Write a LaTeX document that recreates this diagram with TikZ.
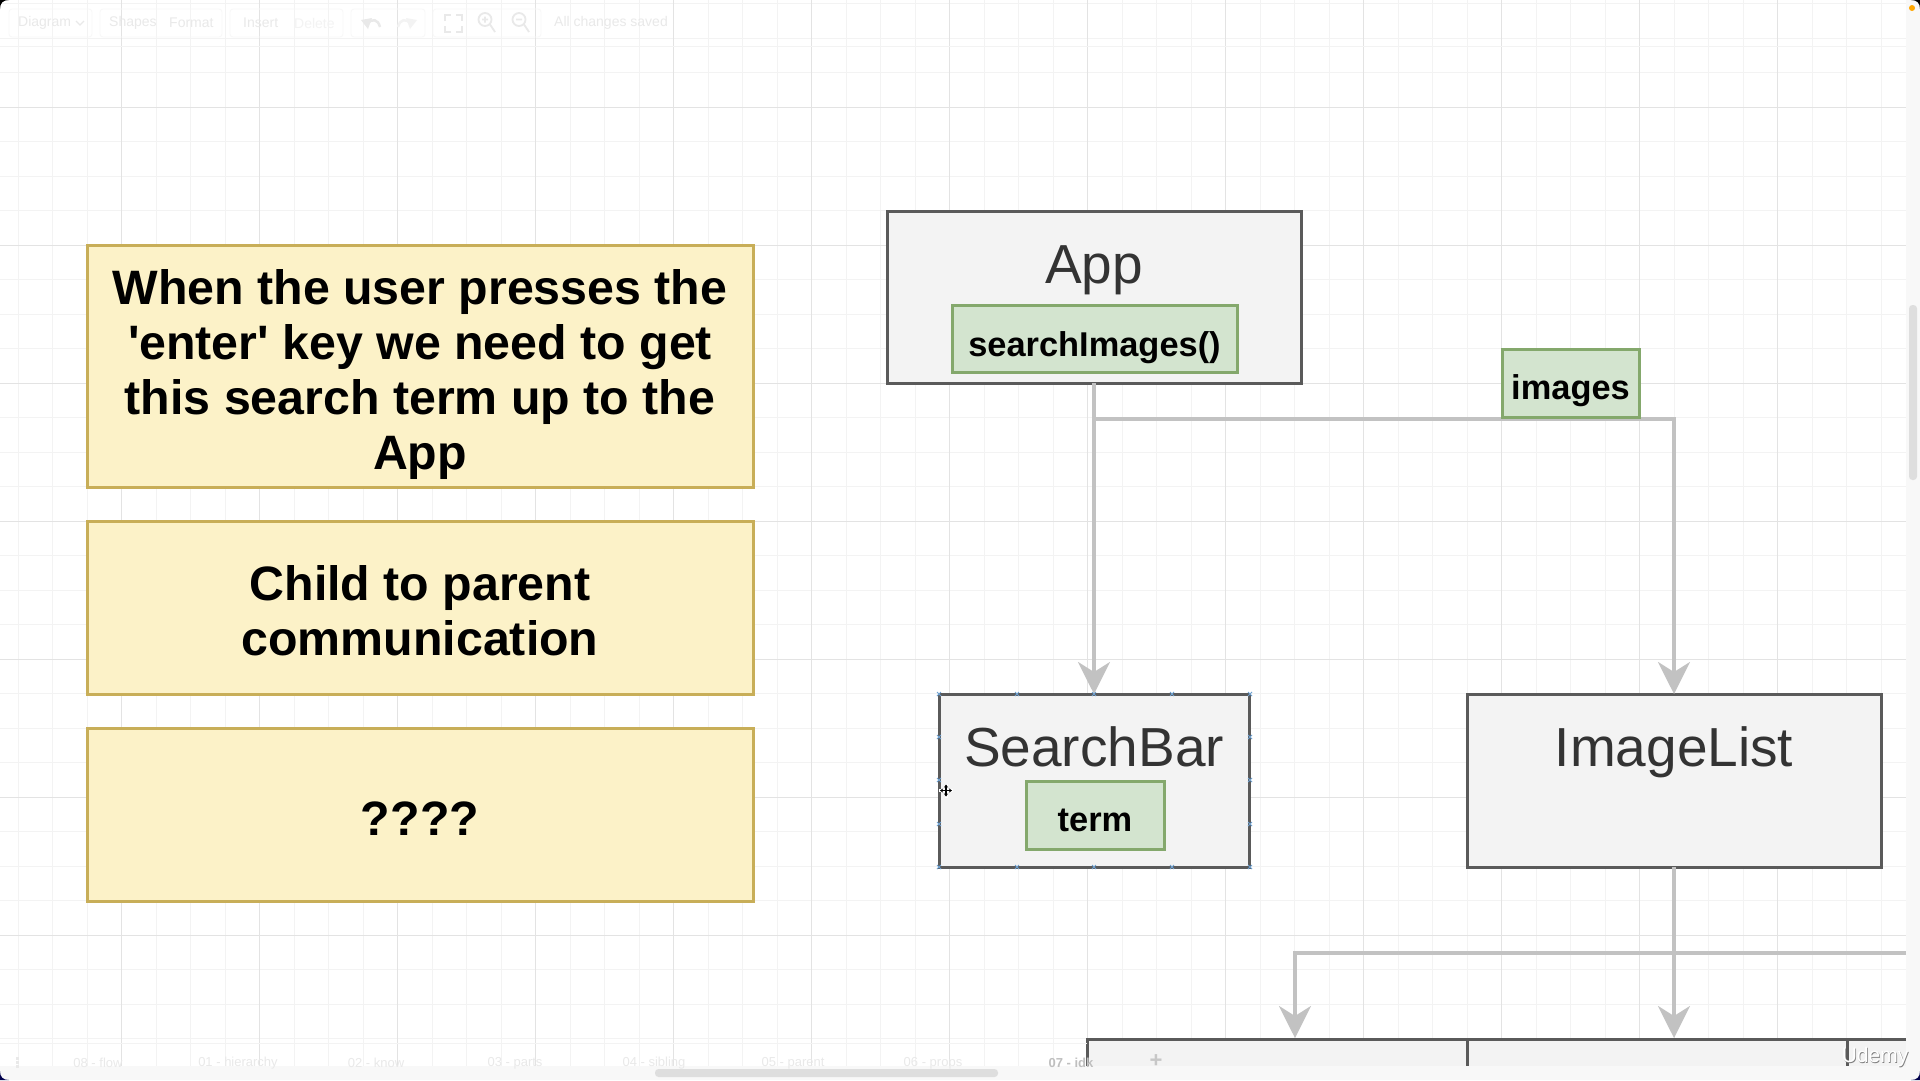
\documentclass[tikz,border=0pt]{standalone}
\usepackage{fontspec}
\setmainfont{Liberation Sans}
\newfontfamily\plainquotes{Liberation Sans}
\usetikzlibrary{arrows.meta,calc}
\definecolor{gridmajor}{HTML}{E3E3E3}
\definecolor{gridminor}{HTML}{F3F3F3}
\definecolor{yfill}{HTML}{FCF2C8}
\definecolor{yline}{HTML}{C8AE58}
\definecolor{gfill}{HTML}{D3E4CF}
\definecolor{gline}{HTML}{84A86C}
\definecolor{bfill}{HTML}{F3F3F3}
\definecolor{bline}{HTML}{5A5A5A}
\definecolor{conn}{HTML}{C2C2C2}
\definecolor{faint}{HTML}{E9E9E9}
\definecolor{handle}{HTML}{6C9FCF}
\definecolor{strip}{HTML}{F8F8F8}
\tikzset{
  box/.style={anchor=north west,draw,outer sep=0pt,inner sep=0pt,align=center},
  note/.style={box,fill=yfill,draw=yline,line width=3pt,font=\plainquotes\fontsize{48.3}{55}\selectfont\bfseries,text=black},
  comp/.style={box,fill=bfill,draw=bline,line width=3pt},
  compname/.style={anchor=base,font=\fontsize{55}{60}\selectfont,text=black!80,inner sep=0pt},
  state/.style={box,fill=gfill,draw=gline,line width=3pt,font=\fontsize{34.4}{40}\selectfont\bfseries,text=black},
  link/.style={draw=conn,line width=3.5pt},
  flow/.style={link,-{Stealth[length=32pt,width=32pt,inset=10pt]}},
  tb/.style={font=\fontsize{14}{16}\selectfont,text=faint,inner sep=0pt},
  tab/.style={font=\fontsize{13}{16}\selectfont,text=faint,inner sep=0pt},
  glyph/.style={draw=faint,line width=1.8pt},
  gripx/.style={handle,line width=.9pt},
}
\begin{document}
\begin{tikzpicture}[x=1pt,y=-1pt]
\useasboundingbox (0,0) rectangle (1920,1080);
\fill[white] (0,0) rectangle (1920,1080);
% grid
\foreach \k in {0,...,54}{
  \pgfmathsetmacro{\gx}{18.2+34.5*\k}
  \draw[gridminor,line width=1pt] (\gx,0) -- (\gx,1066);
}
\foreach \k in {0,...,30}{
  \pgfmathsetmacro{\gy}{3.5+34.5*\k}
  \draw[gridminor,line width=1pt] (0,\gy) -- (1906,\gy);
}
\foreach \k in {0,...,13}{
  \pgfmathsetmacro{\gx}{121.7+138*\k}
  \draw[gridmajor,line width=1pt] (\gx,0) -- (\gx,1066);
}
\foreach \k in {0,...,6}{
  \pgfmathsetmacro{\gy}{107+138*\k}
  \draw[gridmajor,line width=1pt] (0,\gy) -- (1906,\gy);
}
% toolbar
\draw[gridminor,line width=1pt] (0,46) -- (1906,46);
\foreach \a/\b in {9/92,100/222,230/343,351/425,433/541}
  \draw[gridminor!60!white,rounded corners=3pt,line width=.8pt] (\a,9) rectangle (\b,37);
\node[tb,anchor=west] (tDiagram) at (18,23) {Diagram};
\node[tb,anchor=west] (tShapes) at (109,23) {Shapes};
\node[tb,anchor=west] (tFormat) at (169,23) {Format};
\node[tb,anchor=west] (tInsert) at (243,23) {Insert};
\node[tb,anchor=west,text=gridminor] (tDelete) at (294,23) {Delete};
\node[tb,anchor=west] (tSaved) at (554,23) {All changes saved};
\draw[glyph,line width=1.2pt] (76,21) -- (80,25) -- (84,21);
% undo / redo
\draw[glyph,line width=2.5pt] (367,24) .. controls (372,18) and (378,19) .. (380,27);
\fill[faint] (361,20) -- (372,18) -- (368,29) -- cycle;
\draw[gridminor,line width=2.5pt] (411,24) .. controls (406,18) and (400,19) .. (398,27);
\fill[gridminor] (417,20) -- (406,18) -- (410,29) -- cycle;
% fit
\draw[glyph] (445,21) -- (445,15) -- (451,15) (456,15) -- (462,15) -- (462,21)
  (462,26) -- (462,32) -- (456,32) (451,32) -- (445,32) -- (445,26);
% zoom in/out
\draw[glyph] (485,19.5) circle[radius=6.5] (490,24.5) -- (495,32) (482,19.5) -- (488,19.5) (485,16.5) -- (485,22.5);
\draw[glyph] (519,19.5) circle[radius=6.5] (524,24.5) -- (529,32) (516,19.5) -- (522,19.5);

% lower boxes, cut off by the tab bar
\fill[bfill] (1087,1039) rectangle (1906,1066);
\draw[bline,line width=3pt] (1087,1066) -- (1087,1039) -- (1906,1039);
\draw[bline,line width=3pt] (1467,1039) -- (1467,1066) (1847,1039) -- (1847,1066);
\draw[gridminor,line width=1pt] (0,1043) -- (1087,1043);

% scroll strips
\fill[strip] (0,1066) rectangle (1920,1080);
\fill[strip] (1906,0) rectangle (1920,1080);
\fill[black!13,rounded corners=3.5pt] (655,1069) rectangle (998,1077);
\fill[black!13,rounded corners=3.5pt] (1909,305) rectangle (1917,480);

% tab bar
\node[tab] (t08) at (98,1063) {08 - flow};
\node[tab] (t01) at (238,1063) {01 - hierarchy};
\node[tab] (t02) at (376,1063) {02 - know};
\node[tab] (t03) at (515,1063) {03 - parts};
\node[tab] (t04) at (654,1063) {04 - sibling};
\node[tab] (t05) at (793,1063) {05 - parent};
\node[tab] (t06) at (933,1063) {06 - props};
\node[tab,font=\fontsize{13}{16}\selectfont\bfseries,text=black!25] (t07) at (1071,1063) {07 - idk};
\node[tab,font=\fontsize{22}{22}\selectfont\bfseries,text=black!22] (tplus) at (1156,1061) {+};
\foreach \dy in {1057,1061,1065}
  \fill[faint] (15.5,\dy) rectangle (18.5,\dy+2.5);

% notes
\node[note,minimum width=666pt,minimum height=242pt] (n1) at (87,245)
  {\rule{0pt}{52pt}When the user presses the\\'enter' key we need to get\\this search term up to the\\App};
\node[note,minimum width=666pt,minimum height=172.5pt] (n2) at (87,521.5)
  {\rule{0pt}{41pt}Child to parent\\communication};
\node[note,minimum width=666pt,minimum height=172.5pt] (n3) at (87,728.5)
  {\rule{0pt}{42pt}????};

% components
\node[comp,minimum width=414pt,minimum height=172pt] (app) at (887,211) {};
\node[comp,minimum width=310pt,minimum height=173pt] (sb) at (939,694) {};
\node[comp,minimum width=414pt,minimum height=173pt] (il) at (1467,694) {};
\node[compname] (appname) at (1094,283) {App};
\node[compname] (sbname) at (1094,766) {SearchBar};
\node[compname] (ilname) at (1674,766) {ImageList};
\node[state,minimum width=285pt,minimum height=67pt] (search) at (952,305) {\rule{0pt}{43pt}searchImages()};
\node[state,minimum width=138pt,minimum height=68pt] (term) at (1026,781) {\rule{0pt}{33pt}term};

% connectors
\coordinate (fork) at (1094,419);
\coordinate (bus) at (1674,953);
\coordinate (busleft) at (1295,953);
\coordinate (busright) at (1906,953);
\coordinate (lower1) at (1295,1038);
\coordinate (lower2) at (1674,1038);
\draw[flow] (app.south) -- (sb.north);
\draw[flow] (fork) -| (il.north);
\draw[link] (il.south) -- (bus);
\draw[flow] (bus) -- (lower2);
\draw[flow] (busright) -- (busleft) -- (lower1);
\node[state,minimum width=137pt,minimum height=68pt] (images) at (1502,349) {\rule{0pt}{40pt}images};

% selection handles on SearchBar
\foreach \hx in {939,1017,1094,1172,1250}
  \foreach \hy in {694,867}
    \draw[gripx] (\hx-2,\hy-2) -- (\hx+2,\hy+2) (\hx-2,\hy+2) -- (\hx+2,\hy-2);
\foreach \hx in {939,1250}
  \foreach \hy in {737,780,824}
    \draw[gripx] (\hx-2,\hy-2) -- (\hx+2,\hy+2) (\hx-2,\hy+2) -- (\hx+2,\hy-2);
% move cursor
\draw[white,line width=3pt] (939,790.5) -- (953,790.5) (946,783.5) -- (946,797.5);
\draw[black,line width=1.2pt,{Stealth[length=3pt,width=4pt]}-{Stealth[length=3pt,width=4pt]}] (940,790.5) -- (952,790.5);
\draw[black,line width=1.2pt,{Stealth[length=3pt,width=4pt]}-{Stealth[length=3pt,width=4pt]}] (946,784.5) -- (946,796.5);

% watermark
\node[inner sep=0pt,font=\fontsize{21}{22}\selectfont,text=black!50] (udshadow) at (1875.8,1057.8) {Udemy};
\node[inner sep=0pt,font=\fontsize{21}{22}\selectfont,text=white] (ud) at (1875,1057) {Udemy};

% window corners
\fill[black] (0,0) -- (9,0) .. controls (3,0) and (0,3) .. (0,9) -- cycle;
\fill[black] (1920,0) -- (1911,0) .. controls (1917,0) and (1920,3) .. (1920,9) -- cycle;
\fill[black!70!blue] (0,1080) -- (9,1080) .. controls (3,1080) and (0,1077) .. (0,1071) -- cycle;
\fill[black!70!blue] (1920,1080) -- (1911,1080) .. controls (1917,1080) and (1920,1077) .. (1920,1071) -- cycle;
\fill[orange!70!yellow] (1912,8) circle[radius=3];
\end{tikzpicture}
\end{document}
